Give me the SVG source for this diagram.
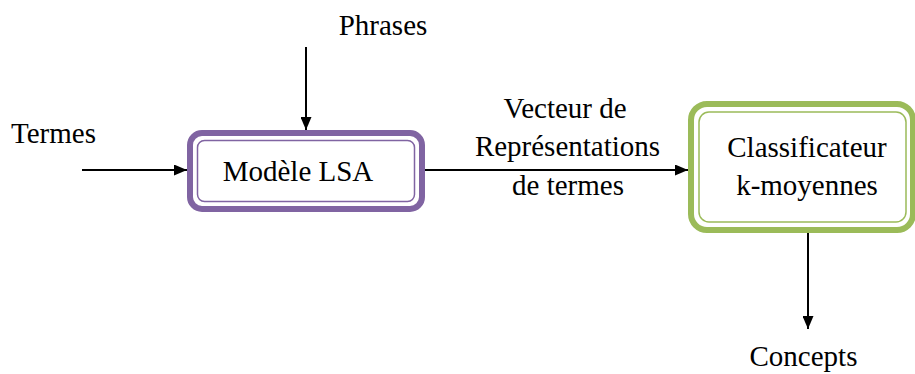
<svg xmlns="http://www.w3.org/2000/svg" width="915" height="374" viewBox="0 0 915 374" font-family="Liberation Serif, Times New Roman, serif" font-size="29">
  <defs>
    <marker id="arrow" markerWidth="13" markerHeight="11" refX="13" refY="5.5" orient="auto" markerUnits="userSpaceOnUse">
      <path d="M0,0 L13,5.5 L0,11 Z" fill="#000"/>
    </marker>
  </defs>
  <style>
    text { font-family: "Liberation Serif", "Times New Roman", serif; }
    .mid { text-anchor: middle; }
    .edge { stroke: #000; stroke-width: 2; fill: none; marker-end: url(#arrow); }
    .lsa-outer { fill: #fff; stroke: #8064a2; stroke-width: 6; }
    .lsa-inner { fill: none; stroke: #8064a2; stroke-width: 1.5; }
    .km-outer { fill: #fff; stroke: #9bbb59; stroke-width: 6; }
    .km-inner { fill: none; stroke: #9bbb59; stroke-width: 1.5; }
  </style>

  <g id="connectors">
    <line class="edge" x1="82" y1="170" x2="187" y2="170"/>
    <line class="edge" x1="306" y1="47" x2="306" y2="130"/>
    <line class="edge" x1="425" y1="170" x2="688" y2="170"/>
    <line class="edge" x1="808" y1="233" x2="808" y2="329"/>
  </g>

  <g id="lsa">
    <rect class="lsa-outer" x="190" y="133" width="232" height="76" rx="12"/>
    <rect class="lsa-inner" x="197.5" y="140.5" width="217" height="61" rx="7"/>
    <text class="mid" x="298" y="180.5">Modèle LSA</text>
  </g>

  <g id="kmeans">
    <rect class="km-outer" x="691" y="104" width="222" height="126" rx="16"/>
    <rect class="km-inner" x="699" y="112" width="207" height="110" rx="10"/>
    <text class="mid" x="807" y="156.5">Classificateur</text>
    <text class="mid" x="807" y="195">k-moyennes</text>
  </g>

  <g id="labels">
    <text class="mid" x="383" y="35">Phrases</text>
    <text class="mid" x="53.5" y="143">Termes</text>
    <text class="mid" x="565" y="118">Vecteur de</text>
    <text class="mid" x="567.5" y="156">Représentations</text>
    <text class="mid" x="568" y="195">de termes</text>
    <text class="mid" x="803.5" y="366">Concepts</text>
  </g>
</svg>
